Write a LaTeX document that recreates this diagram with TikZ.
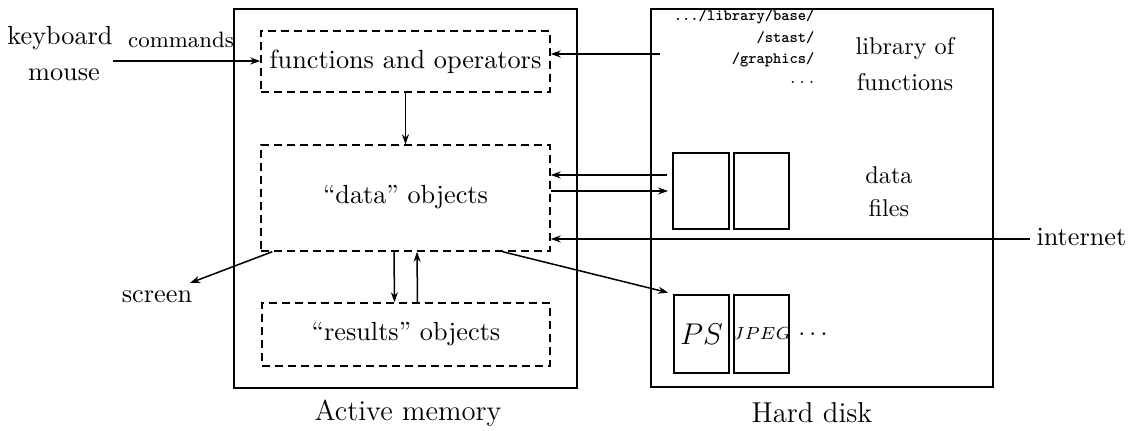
\documentclass[tikz,border=0pt]{standalone}
\usetikzlibrary{arrows.meta,fit}
\begin{document}
\begin{tikzpicture}[x=0.4pt,y=-0.4pt,
  outerbox/.style={draw, line width=0.8pt, inner sep=0pt},
  dashbox/.style={draw, line width=0.6pt, dash pattern=on 3.2pt off 2pt, inner sep=0pt},
  filebox/.style={draw, line width=0.7pt, inner sep=0pt},
  arr/.style={line width=0.6pt, -{Stealth[length=4pt,width=2.8pt]}},
  txt/.style={inner sep=0pt, font=\fontsize{10.5}{12}\selectfont},
  rtxt/.style={inner sep=0pt, font=\fontsize{9.7}{11}\selectfont},
  lbl/.style={inner sep=0pt, font=\fontsize{11.5}{13}\selectfont},
  mono/.style={inner sep=0pt, anchor=east, font=\fontsize{6.3}{7}\selectfont\ttfamily\bfseries}]
\useasboundingbox (0,0) rectangle (1135,431);

% outer boxes
\node[outerbox, fit={(234,9) (577,388)}] (am) {};
\node[outerbox, fit={(651,9) (993,387)}] (hd) {};

% dashed boxes
\node[dashbox, fit={(261,31) (550,92)}] (func) {};
\node[txt] (functxt) at (405.5,61.5) {functions and operators};
\node[dashbox, fit={(261,145) (550,251)}] (data) {};
\node[txt] (datatxt) at (405.5,197) {``data'' objects};
\node[dashbox, fit={(262,303) (550,366)}] (res) {};
\node[txt] (restxt) at (406,334) {``results'' objects};

% files
\node[filebox, fit={(673,153) (729,229)}] (df1) {};
\node[filebox, fit={(734,153) (789,229)}] (df2) {};
\node[filebox, fit={(674,295) (729,373)}] (ps1) {};
\node[filebox, fit={(734,295) (789,373)}] (ps2) {};
\node[inner sep=0pt, font=\fontsize{11.8}{13}\selectfont] (pstxt) at (701.5,334) {$PS$};
\node[inner sep=0pt, font=\fontsize{6.9}{8}\selectfont] (jpegtxt) at (761.5,334) {$JPEG$};
\node[inner sep=0pt, font=\fontsize{10}{12}\selectfont] (psdots) at (813,334) {$\ldots$};

% texts left
\node[txt] (kbd) at (60,38) {keyboard};
\node[inner sep=0pt, font=\fontsize{8.9}{10}\selectfont] (cmd) at (181,40) {commands};
\node[txt] (mouse) at (64,75) {mouse};
\node[txt] (screen) at (157,297) {screen};

% texts right
\node[mono] (l1) at (815,17) {.../library/base/};
\node[mono] (l2) at (815,38) {/stast/};
\node[mono] (l3) at (815,60) {/graphics/};
\node[inner sep=0pt, anchor=east, font=\fontsize{7}{8}\selectfont] (l4) at (815,82) {$\ldots$};
\node[rtxt] (lib1) at (905,48) {library of};
\node[rtxt] (lib2) at (905,82) {functions};
\node[rtxt] (dat1) at (889,175) {data};
\node[rtxt] (dat2) at (889,208) {files};
\node[txt, anchor=west] (inettxt) at (1036,237) {internet};

% labels
\node[lbl] (amlbl) at (408,413) {Active memory};
\node[lbl] (hdlbl) at (812,413) {Hard disk};

% connectors
\coordinate (kb) at (113,61);
\draw[arr] (kb) -- (kb -| func.west);
\coordinate (lib) at (660,54);
\draw[arr] (lib) -- (lib -| func.east);
\draw[arr] (func.south) -- (data.north);
\draw[arr] ([xshift=-4.6pt]data.south) -- ([xshift=-4.6pt]res.north);
\draw[arr] ([xshift=4.6pt]res.north) -- ([xshift=4.6pt]data.south);
\coordinate (fin) at (667,175);
\draw[arr] (fin) -- (fin -| data.east);
\coordinate (fout) at (668,191);
\draw[arr] (fout -| data.east) -- (fout);
\coordinate (inet) at (1030,239);
\draw[arr] (inet) -- (inet -| data.east);
\coordinate (scr) at (190,283);
\draw[arr] ([xshift=4.8pt]data.south west) -- (scr);
\draw[arr] ([xshift=-19.2pt]data.south east) -- ([xshift=-2pt,yshift=0.6pt]ps1.north west);
\end{tikzpicture}
\end{document}
